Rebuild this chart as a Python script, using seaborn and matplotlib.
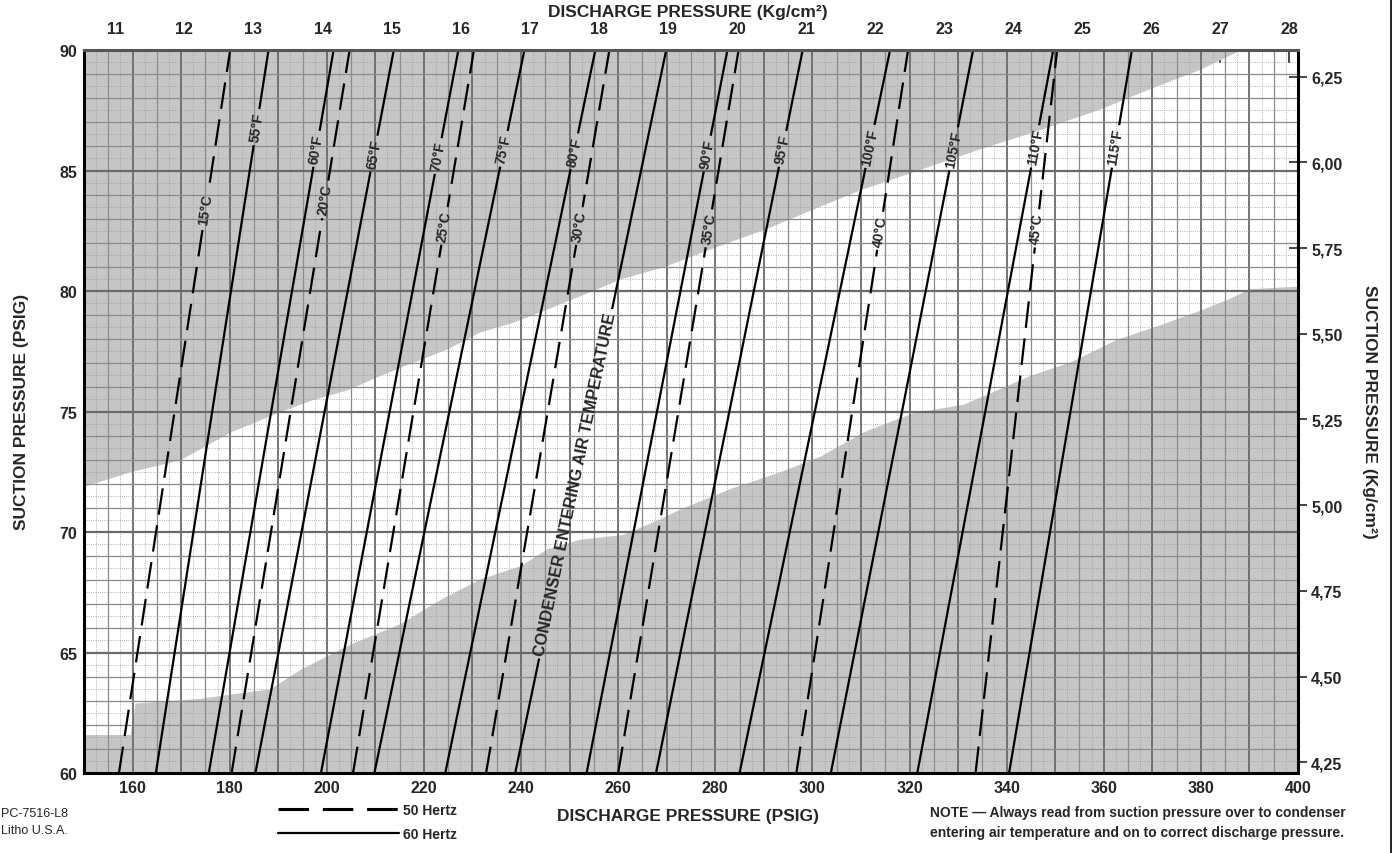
import numpy as np
import pandas as pd
import matplotlib
matplotlib.use("Agg")
import matplotlib.pyplot as plt
import seaborn as sns
from matplotlib.lines import Line2D
from matplotlib.ticker import FuncFormatter
from matplotlib.path import Path
from matplotlib.transforms import IdentityTransform
from matplotlib.textpath import TextPath
from matplotlib.font_manager import FontProperties

# ---------------- data ----------------
suction_ends = [60, 90]                     # PSIG, bottom and top of every curve

f_labels = ["55°F", "60°F", "65°F", "70°F", "75°F", "80°F", "85°F",
            "90°F", "95°F", "100°F", "105°F", "110°F", "115°F"]
f_at_60 = [164.8, 175.7, 185.3, 198.8, 209.8, 224.4, 238.8,
           253.5, 267.8, 285.0, 303.8, 321.6, 340.5]
f_at_90 = [188.0, 201.4, 213.8, 227.1, 240.7, 255.3, 269.9,
           282.5, 298.0, 316.0, 333.1, 349.6, 365.8]

c_labels = ["15°C", "20°C", "25°C", "30°C", "35°C", "40°C", "45°C"]
c_at_60 = [157.2, 180.4, 205.4, 232.8, 260.0, 296.7, 333.6]
c_at_90 = [180.1, 204.7, 230.3, 258.2, 284.8, 319.7, 350.4]

# suction pressure at which each curve label sits
f_label_at = [86.8, 85.9, 85.7, 85.6, 85.9, 85.8, 85.8,
              85.7, 85.9, 86.0, 85.9, 86.0, 86.0]
c_label_at = [83.4, 83.8, 82.7, 82.7, 82.6, 82.5, 82.6]

axis_note = "CONDENSER ENTERING AIR TEMPERATURE"
axis_note_curve = "85°F"
axis_note_at = 72.0

# shaded zones (discharge PSIG, suction PSIG)
upper_x = [150, 159.5, 169.8, 180.1, 190.4, 197.2, 204.2, 211.0, 217.8, 224.8,
           231.5, 238.3, 245.3, 252.1, 260.4, 269.2, 281.0, 290.6, 300.1, 309.8,
           322.2, 334.5, 346.9, 359.2, 369.5, 379.8, 388.1]
upper_y = [71.9, 72.5, 73.0, 74.15, 75.0, 75.5, 75.9, 76.5, 77.05, 77.6,
           78.3, 78.7, 79.25, 79.8, 80.5, 81.0, 81.9, 82.6, 83.4, 84.2,
           85.05, 85.9, 86.7, 87.55, 88.4, 89.2, 90.0]
lower_x = [150, 159.5, 160.5, 173.9, 188.3, 194.5, 204.8, 215.1, 223.3, 231.5,
           239.8, 245.3, 252.1, 261.0, 268.0, 272.7, 283.0, 293.3, 301.6, 310.4,
           320.7, 331.0, 338.0, 344.8, 353.0, 362.7, 371.6, 380.4, 385.4, 390.1, 400]
lower_y = [61.6, 61.6, 62.9, 63.1, 63.5, 64.3, 65.35, 66.2, 67.2, 68.05,
           68.6, 69.3, 69.7, 69.9, 70.5, 70.95, 71.8, 72.5, 73.15, 74.15,
           74.95, 75.3, 75.9, 76.5, 77.05, 78.0, 78.6, 79.25, 79.65, 80.1, 80.2]

x_ticks = list(range(160, 401, 20))
y_ticks = list(range(60, 91, 5))
kg_top_ticks = list(range(11, 29))
kg_right_ticks = [4.25, 4.50, 4.75, 5.00, 5.25, 5.50, 5.75, 6.00, 6.25]
KG = 14.223  # psi per kg/cm2

# ---------------- frame ----------------
W, H = 1395, 854
sns.set_style("white")
FAM = ["Liberation Sans", "DejaVu Sans"]
plt.rcParams["font.family"] = FAM

fig = plt.figure(figsize=(W / 100, H / 100), dpi=100)
L, R, T, B = 84, 1298, 51, 774
ax = fig.add_axes([L / W, 1 - B / H, (R - L) / W, (B - T) / H])
ax.set_xlim(150, 400)
ax.set_ylim(60, 90)

shade = "#c6c6c6"
ax.fill_between(upper_x, upper_y, 90, color=shade, lw=0, zorder=0.2)
ax.fill_between(lower_x, 60, lower_y, color=shade, lw=0, zorder=0.2)

# graph-paper grid
gkw = dict(zorder=0.5)
ax.vlines(np.arange(152.5, 400, 5), 60, 90, colors="#9a9a9a", lw=0.6, linestyles=":", **gkw)
ax.vlines(np.arange(155, 400, 10), 60, 90, colors="#8c8c8c", lw=0.9, **gkw)
ax.vlines(np.arange(160, 400, 10), 60, 90, colors="#6a6a6a", lw=1.3, **gkw)
ax.hlines(np.arange(60.5, 90, 1), 150, 400, colors="#9a9a9a", lw=0.6, linestyles=":", **gkw)
ax.hlines([v for v in range(61, 90) if v % 5], 150, 400, colors="#8c8c8c", lw=0.9, **gkw)
ax.hlines(np.arange(65, 90, 5), 150, 400, colors="#6a6a6a", lw=1.6, **gkw)

# ---------------- curves ----------------
dash_pat = (12, 4.8)
curves = []
for labs, lo, hi, hz, lat in [(f_labels, f_at_60, f_at_90, "60 Hertz", f_label_at),
                              (c_labels, c_at_60, c_at_90, "50 Hertz", c_label_at)]:
    for lab, a, b, s_lab in zip(labs, lo, hi, lat):
        sub = pd.DataFrame(dict(discharge=[a, b], suction=suction_ends, hz=hz))
        sns.lineplot(data=sub, x="discharge", y="suction", style="hz",
                     dashes={"60 Hertz": "", "50 Hertz": dash_pat},
                     color="black", lw=1.6, sort=False, legend=False, ax=ax, zorder=2)
        curves.append(dict(label=lab, a=a, b=b, at=s_lab, line=ax.lines[-1]))

# ---------------- labels sitting in gaps of their curves ----------------
dpi = fig.dpi
ax_bb = ax.get_window_extent()
outer = [(ax_bb.x0 - 5, ax_bb.y0 - 5), (ax_bb.x1 + 5, ax_bb.y0 - 5),
         (ax_bb.x1 + 5, ax_bb.y1 + 5), (ax_bb.x0 - 5, ax_bb.y1 + 5)]


def label_with_gap(curve, text, s_at, size, pad=4):
    a, b = curve["a"], curve["b"]
    frac = (s_at - suction_ends[0]) / (suction_ends[1] - suction_ends[0])
    xd = a + (b - a) * frac
    p0 = ax.transData.transform((a, suction_ends[0]))
    p1 = ax.transData.transform((b, suction_ends[1]))
    ang = np.arctan2(p1[1] - p0[1], p1[0] - p0[0])
    ax.text(xd, s_at, text, rotation=np.degrees(ang), rotation_mode="anchor",
            ha="center", va="center", fontsize=size, fontweight="bold", zorder=3)
    size_px = size * dpi / 72
    tw = TextPath((0, 0), text, size=size_px,
                  prop=FontProperties(family=FAM, weight="bold")).get_extents().width
    c = ax.transData.transform((xd, s_at))
    u = np.array([np.cos(ang), np.sin(ang)])
    v = np.array([-np.sin(ang), np.cos(ang)])
    hw, hh = tw / 2 + pad, size_px * 0.6
    hole = [c - hw * u - hh * v, c + hw * u - hh * v, c + hw * u + hh * v, c - hw * u + hh * v]
    verts = outer + [tuple(outer[0])] + [tuple(p) for p in hole[::-1]] + [tuple(hole[-1])]
    codes = ([Path.MOVETO] + [Path.LINETO] * 3 + [Path.CLOSEPOLY]) * 2
    curve["line"].set_clip_path(Path(verts, codes), IdentityTransform())


for cv in curves:
    if cv["label"] == axis_note_curve:
        label_with_gap(cv, axis_note, axis_note_at, 11.6, pad=5)
    else:
        label_with_gap(cv, cv["label"], cv["at"], 10)

# ---------------- axes / ticks ----------------
ax.set_xticks(x_ticks)
ax.set_yticks(y_ticks)
ax.tick_params(axis="both", length=0, labelsize=11.5, pad=5)
for t in ax.get_xticklabels() + ax.get_yticklabels():
    t.set_fontweight("bold")
ax.set_xlabel("")
ax.set_ylabel("")
for side in ["left", "right", "bottom"]:
    ax.spines[side].set_linewidth(2.2)
    ax.spines[side].set_color("black")
ax.spines["top"].set_linewidth(2.2)
ax.spines["top"].set_color("#555555")

secx = ax.secondary_xaxis("top", functions=(lambda p: p / KG, lambda k: k * KG))
secx.set_xticks(kg_top_ticks)
secx.tick_params(direction="in", length=9, width=1.2, labelsize=11.5, pad=10)
for t in secx.get_xticklabels():
    t.set_fontweight("bold")
secx.spines["top"].set_visible(False)

secy = ax.secondary_yaxis("right", functions=(lambda p: p / KG, lambda k: k * KG))
secy.set_yticks(kg_right_ticks)
secy.yaxis.set_major_formatter(FuncFormatter(lambda v, _: f"{v:.2f}".replace(".", ",")))
secy.tick_params(direction="inout", length=13, width=1.2, labelsize=11.5, pad=3)
for t in secy.get_yticklabels():
    t.set_fontweight("bold")
secy.spines["right"].set_visible(False)


def fx(px):
    return px / W


def fy(py):
    return 1 - py / H


tkw = dict(fontweight="bold", fontsize=12.5, ha="center", va="center")
fig.text(fx(688), fy(13), "DISCHARGE PRESSURE (Kg/cm²)", **tkw)
fig.text(fx(688), fy(817), "DISCHARGE PRESSURE (PSIG)", **tkw)
fig.text(fx(22), fy(412), "SUCTION PRESSURE (PSIG)", rotation=90, **tkw)
fig.text(fx(1370), fy(412), "SUCTION PRESSURE (Kg/cm²)", rotation=270, **tkw)

# legend
handles = [Line2D([], [], color="black", lw=2.2, dashes=(10, 4.5)),
           Line2D([], [], color="black", lw=1.6)]
fig.legend(handles, ["50 Hertz", "60 Hertz"], loc="upper left",
           bbox_to_anchor=(fx(278), fy(804)), frameon=False,
           handlelength=8.7, handletextpad=0.3, labelspacing=0.7,
           prop=dict(weight="bold", size=10), borderaxespad=0, borderpad=0)

# footers
fig.text(fx(1), fy(814), "PC-7516-L8", fontsize=9, va="center", ha="left")
fig.text(fx(1), fy(831), "Litho U.S.A.", fontsize=9, va="center", ha="left")
fig.text(fx(930), fy(813), "NOTE — Always read from suction pressure over to condenser",
         fontsize=10, fontweight="bold", va="center", ha="left")
fig.text(fx(930), fy(833), "entering air temperature and on to correct discharge pressure.",
         fontsize=10, fontweight="bold", va="center", ha="left")

fig.add_artist(Line2D([fx(1391), fx(1391)], [0, 1], color="black", lw=1.2))

fig.savefig("out.png", dpi=100)
